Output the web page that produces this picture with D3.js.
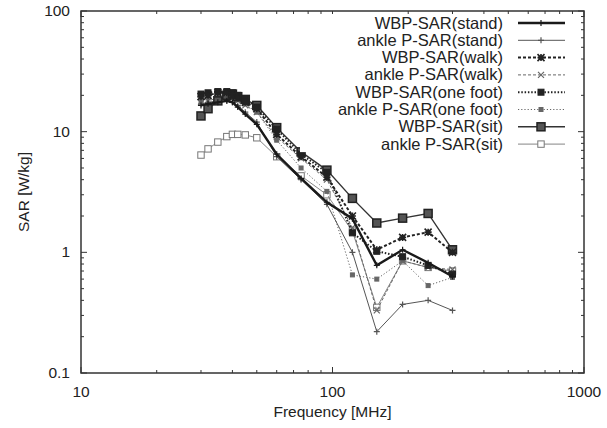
<!DOCTYPE html>
<html><head><meta charset="utf-8">
<script src="https://cdn.jsdelivr.net/npm/d3@7"></script>
<style>body{margin:0;background:#fff}svg{display:block}text{font-family:"Liberation Sans",Arial,sans-serif;fill:#222}</style>
</head><body><svg id="c" width="607" height="428"></svg>
<script>
const freqs = [30, 32, 35, 38, 40, 42, 45, 50, 60, 75, 95, 120, 150, 190, 240, 300];
const wbpStand   = [16.5, 17, 17.5, 18, 17.5, 16, 14, 11.5, 6.5, 4.1, 2.6, 1.9, 0.78, 1.05, 0.82, 0.63];
const ankleStand = [17, 17.5, 18, 18, 17.5, 16.5, 14.5, 12, 6.2, 4.0, 2.5, 1.0, 0.22, 0.37, 0.40, 0.33];
const wbpWalk    = [19.5, 20, 21, 21, 20, 19, 17.5, 15.5, 9.5, 6.2, 4.2, 2.0, 1.05, 1.33, 1.47, 1.0];
const ankleWalk  = [17.5, 18, 19, 19.5, 19, 18, 16.5, 14.5, 9.0, 6.0, 4.0, 1.6, 0.33, 0.85, 0.75, 0.72];
const wbpOne     = [20.5, 21, 21.5, 21.5, 21, 20, 18.5, 16, 10.5, 6.5, 4.6, 1.45, 1.02, 0.92, 0.78, 0.66];
const ankleOne   = [18, 19, 20, 20, 19.5, 18.5, 17, 14.5, 8.5, 5.0, 3.2, 0.65, 0.6, 0.85, 0.53, 0.62];
const wbpSit     = [13.5, 15.5, 18, 20, 20.5, 19.5, 18.5, 16.5, 10.8, 6.8, 4.8, 2.8, 1.75, 1.92, 2.1, 1.05];
const ankleSit   = [6.4, 7.2, 8.2, 9.1, 9.5, 9.5, 9.4, 8.9, 6.2, 4.3, 3.0, 1.5, 0.35, 0.85, 0.75, 0.7];
const seriesNames = ["WBP-SAR(stand)","ankle P-SAR(stand)","WBP-SAR(walk)","ankle P-SAR(walk)","WBP-SAR(one foot)","ankle P-SAR(one foot)","WBP-SAR(sit)","ankle P-SAR(sit)"];
const xTicks = [10, 100, 1000];
const yTicks = [0.1, 1, 10, 100];
const xTitle = "Frequency [MHz]";
const yTitle = "SAR [W/kg]";

const seriesVals = [wbpStand, ankleStand, wbpWalk, ankleWalk, wbpOne, ankleOne, wbpSit, ankleSit];
const styles = [
  {w:2.4, dash:null, col:"#1a1a1a", mk:"plus", ms:3},
  {w:1, dash:null, col:"#555", mk:"plus", ms:3},
  {w:2, dash:"3,2", col:"#222", mk:"star", ms:3.5},
  {w:1, dash:"3,2", col:"#666", mk:"x", ms:3},
  {w:2, dash:"1.5,1.8", col:"#222", mk:"fsq", ms:3},
  {w:1, dash:"1.2,2", col:"#666", mk:"fsq", ms:2},
  {w:1.4, dash:null, col:"#333", mk:"bsq", ms:4},
  {w:0.9, dash:null, col:"#777", mk:"osq", ms:3.2}
];

const svg = d3.select("#c");
const L=81, R=584, T=11, B=373;
const x = d3.scaleLog().domain([10,1000]).range([L,R]);
const y = d3.scaleLog().domain([0.1,100]).range([B,T]);

const g = svg.append("g").attr("stroke","#333").attr("stroke-width",1);
const xMinor = [], yMinor = [];
for (let d=10; d<1000; d*=10) for (let k=2;k<=9;k++) xMinor.push(d*k);
for (let d=0.1; d<100; d*=10) for (let k=2;k<=9;k++) yMinor.push(+(d*k).toPrecision(3));
xMinor.forEach(v=>{g.append("line").attr("x1",x(v)).attr("x2",x(v)).attr("y1",B).attr("y2",B-3);
  g.append("line").attr("x1",x(v)).attr("x2",x(v)).attr("y1",T).attr("y2",T+3);});
xTicks.forEach(v=>{g.append("line").attr("x1",x(v)).attr("x2",x(v)).attr("y1",B).attr("y2",B-6);
  g.append("line").attr("x1",x(v)).attr("x2",x(v)).attr("y1",T).attr("y2",T+6);});
yMinor.forEach(v=>{g.append("line").attr("y1",y(v)).attr("y2",y(v)).attr("x1",L).attr("x2",L+3);
  g.append("line").attr("y1",y(v)).attr("y2",y(v)).attr("x1",R).attr("x2",R-3);});
yTicks.forEach(v=>{g.append("line").attr("y1",y(v)).attr("y2",y(v)).attr("x1",L).attr("x2",L+6);
  g.append("line").attr("y1",y(v)).attr("y2",y(v)).attr("x1",R).attr("x2",R-6);});

svg.append("rect").attr("x",L).attr("y",T).attr("width",R-L).attr("height",B-T)
  .attr("fill","none").attr("stroke","#333").attr("stroke-width",1.5);

svg.selectAll(".xl").data(xTicks).join("text").attr("x",d=>x(d)).attr("y",B+24)
  .attr("text-anchor","middle").attr("font-size",15.5).text(d=>d);
svg.selectAll(".yl").data(yTicks).join("text").attr("x",L-11).attr("y",d=>y(d)+5)
  .attr("text-anchor","end").attr("font-size",15.5).text(d=>d);
svg.append("text").attr("x",(L+R)/2).attr("y",417).attr("text-anchor","middle").attr("font-size",15.5).text(xTitle);
svg.append("text").attr("transform","translate(29,"+((T+B)/2)+") rotate(-90)").attr("text-anchor","middle").attr("font-size",15.5).text(yTitle);

function marker(sel, type, s, col){
  if(type==="plus"){ sel.append("path").attr("d",`M${-s},0H${s}M0,${-s}V${s}`).attr("stroke",col).attr("stroke-width",1.2).attr("fill","none"); }
  else if(type==="x"){ sel.append("path").attr("d",`M${-s},${-s}L${s},${s}M${-s},${s}L${s},${-s}`).attr("stroke",col).attr("stroke-width",1.2).attr("fill","none"); }
  else if(type==="star"){ sel.append("path").attr("d",`M${-s},0H${s}M0,${-s}V${s}M${-s},${-s}L${s},${s}M${-s},${s}L${s},${-s}`).attr("stroke",col).attr("stroke-width",1.6).attr("fill","none"); }
  else if(type==="fsq"){ sel.append("rect").attr("x",-s).attr("y",-s).attr("width",2*s).attr("height",2*s).attr("fill",col).attr("stroke",col); }
  else if(type==="bsq"){ sel.append("rect").attr("x",-s).attr("y",-s).attr("width",2*s).attr("height",2*s).attr("fill","#555").attr("stroke","#222").attr("stroke-width",1.5); }
  else if(type==="osq"){ sel.append("rect").attr("x",-s).attr("y",-s).attr("width",2*s).attr("height",2*s).attr("fill","#fff").attr("stroke",col).attr("stroke-width",1); }
}

const line = d3.line().x(d=>x(d[0])).y(d=>y(d[1]));
const order = [7,5,3,1,6,4,2,0];
order.forEach(i=>{
  const st = styles[i];
  const pts = freqs.map((f,j)=>[f, seriesVals[i][j]]);
  svg.append("path").attr("d",line(pts)).attr("fill","none").attr("stroke",st.col)
    .attr("stroke-width",st.w).attr("stroke-dasharray",st.dash);
  pts.forEach(p=>{ const m = svg.append("g").attr("transform",`translate(${x(p[0])},${y(p[1])})`); marker(m, st.mk, st.ms, st.col); });
});

const lg = svg.append("g");
seriesNames.forEach((n,i)=>{
  const yy = 23 + i*17.3;
  lg.append("rect").attr("x",300).attr("y",yy-9).attr("width",270).attr("height",17).attr("fill","#fff");
  lg.append("text").attr("x",503).attr("y",yy+5.5).attr("text-anchor","end").attr("font-size",16.5).text(n);
});
seriesNames.forEach((n,i)=>{
  const yy = 23 + i*17.3;
  const st = styles[i];
  lg.append("line").attr("x1",518).attr("x2",565).attr("y1",yy).attr("y2",yy).attr("stroke",st.col)
    .attr("stroke-width",st.w).attr("stroke-dasharray",st.dash);
  const m = lg.append("g").attr("transform",`translate(541,${yy})`); marker(m, st.mk, st.ms, st.col);
});
</script></body></html>
